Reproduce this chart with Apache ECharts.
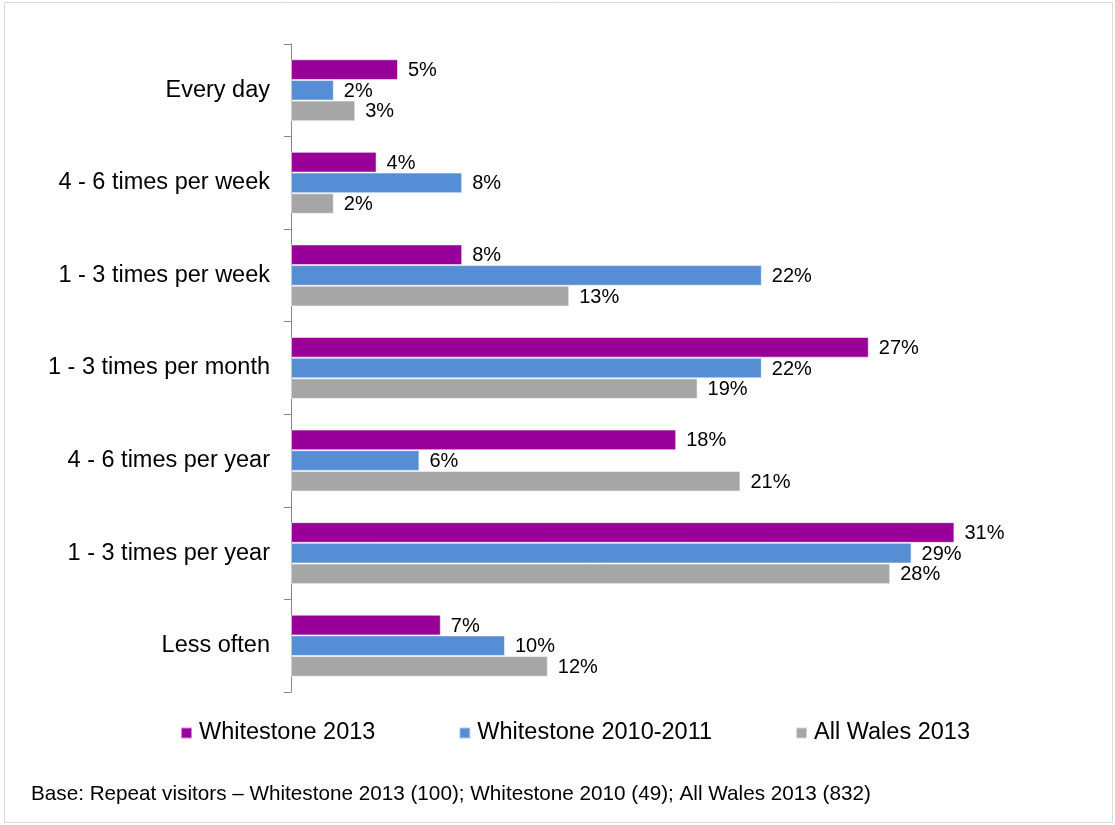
<!DOCTYPE html>
<html>
<head>
<meta charset="utf-8">
<script src="https://cdn.jsdelivr.net/npm/echarts@6/dist/echarts.min.js"></script>
<style>
  html, body { margin: 0; padding: 0; background: #fff; }
  #chart { width: 1115px; height: 825px; }
</style>
</head>
<body>
<div id="chart"></div>
<script>
// Visit frequency categories (top to bottom)
const categories = [
  'Every day',
  '4 - 6 times per week',
  '1 - 3 times per week',
  '1 - 3 times per month',
  '4 - 6 times per year',
  '1 - 3 times per year',
  'Less often'
];

const seriesNames = ['Whitestone 2013', 'Whitestone 2010-2011', 'All Wales 2013'];
const whitestone2013 = [5, 4, 8, 27, 18, 31, 7];
const whitestone2010 = [2, 8, 22, 22, 6, 29, 10];
const allWales2013 = [3, 2, 13, 19, 21, 28, 12];

const colors = ['#990099', '#558ED5', '#A6A6A6'];
const footnote = 'Base: Repeat visitors \u2013 Whitestone 2013 (100); Whitestone 2010 (49); All Wales 2013 (832)';

const FONT = '"Liberation Sans", Arial, sans-serif';

function barSeries(name, values, color) {
  return {
    name: name,
    type: 'bar',
    data: values,
    barGap: '0%',
    barCategoryGap: '33%',
    itemStyle: { color: color, borderColor: 'rgba(255,255,255,0.55)', borderWidth: 1 },
    label: {
      show: true,
      position: 'right',
      distance: 10,
      offset: [0, 1],
      formatter: '{c}%',
      color: '#000',
      fontFamily: FONT,
      fontSize: 20
    }
  };
}

const chart = echarts.init(document.getElementById('chart'), null, { renderer: 'canvas' });
chart.setOption({
  animation: false,
  backgroundColor: '#fff',
  grid: { left: 291, right: 75, top: 44, bottom: 133, containLabel: false },
  xAxis: {
    type: 'value',
    min: 0,
    max: 35,
    show: false
  },
  yAxis: {
    type: 'category',
    data: categories,
    inverse: true,
    axisLine: { show: true, lineStyle: { color: '#868686', width: 1 } },
    axisTick: { show: true, length: 7, lineStyle: { color: '#868686' } },
    axisLabel: { color: '#000', fontFamily: FONT, fontSize: 23.5, margin: 21 },
    splitLine: { show: false }
  },
  legend: {
    data: seriesNames,
    left: 175,
    top: 716,
    itemWidth: 11,
    itemHeight: 11,
    itemGap: 83,
    icon: 'rect',
    textStyle: { color: '#000', fontFamily: FONT, fontSize: 23.5, padding: [0, 0, 0, 2] }
  },
  graphic: [
    {
      type: 'rect',
      shape: { x: 4.5, y: 2.5, width: 1108, height: 820 },
      style: { fill: 'none', stroke: '#D9D9D9', lineWidth: 1 },
      silent: true,
      z: -1
    },
    {
      type: 'text',
      left: 31,
      top: 784,
      style: { text: footnote, fill: '#000', font: '20.7px ' + FONT }
    }
  ],
  series: [
    barSeries(seriesNames[0], whitestone2013, colors[0]),
    barSeries(seriesNames[1], whitestone2010, colors[1]),
    barSeries(seriesNames[2], allWales2013, colors[2])
  ]
});
</script>
</body>
</html>
